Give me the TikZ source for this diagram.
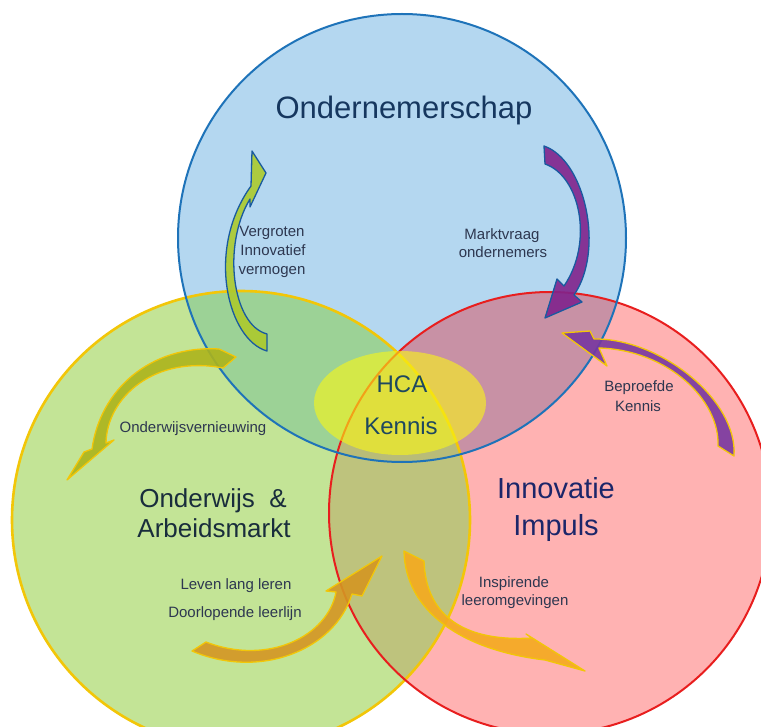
\documentclass[tikz,border=0pt]{standalone}
\usepackage{fontspec}
\setmainfont{Liberation Sans}
\definecolor{cblue}{RGB}{180,215,240}
\definecolor{cgreen}{RGB}{195,228,150}
\definecolor{cred}{RGB}{255,178,178}
\definecolor{cbg}{RGB}{156,210,150}
\definecolor{cbr}{RGB}{200,145,165}
\definecolor{cgr}{RGB}{190,195,125}
\definecolor{cbgr}{RGB}{185,188,120}
\definecolor{lblue}{RGB}{30,115,185}
\definecolor{lred}{RGB}{232,30,30}
\definecolor{lyel}{RGB}{242,198,8}
\definecolor{ellcol}{RGB}{250,247,20}
\definecolor{tnavy}{RGB}{22,55,95}
\definecolor{tinno}{RGB}{28,38,105}
\definecolor{tdark}{RGB}{25,45,60}
\definecolor{thca}{RGB}{30,72,95}
\definecolor{tsmall}{RGB}{45,55,80}
\definecolor{agreen}{RGB}{172,202,45}
\definecolor{apurple}{RGB}{128,35,140}
\definecolor{apurple2}{RGB}{120,55,160}
\definecolor{aolive}{RGB}{172,180,28}
\definecolor{aorange}{RGB}{212,150,35}
\definecolor{aorange2}{RGB}{245,170,30}
\definecolor{adblue}{RGB}{25,90,160}
\newcommand{\cBlueC}{(402,238) circle[radius=224pt]}
\newcommand{\cGreenC}{(241,520) circle[radius=229pt]}
\newcommand{\cRedC}{(550,513) circle[radius=221pt]}
\begin{document}
\begin{tikzpicture}[x=1pt,y=-1pt,
  titletext/.style={inner sep=0pt,anchor=base,font=\fontsize{30}{36}\selectfont},
  smalltext/.style={inner sep=0pt,anchor=base,text=tsmall,font=\fontsize{15}{18}\selectfont},
  arrowshape/.style={line width=1.3pt,line join=round,fill opacity=0.9}]
\useasboundingbox (0,0) rectangle (761,727);
\fill[white] (0,0) rectangle (761,727);
% circle fills
\fill[cblue] \cBlueC;
\fill[cgreen] \cGreenC;
\fill[cred] \cRedC;
\begin{scope}\clip \cBlueC; \fill[cbg] \cGreenC; \end{scope}
\begin{scope}\clip \cBlueC; \fill[cbr] \cRedC; \end{scope}
\begin{scope}\clip \cGreenC; \fill[cgr] \cRedC; \end{scope}
\begin{scope}\clip \cBlueC; \clip \cGreenC; \fill[cbgr] \cRedC; \end{scope}
% outlines
\draw[lyel,line width=2.6pt] \cGreenC;
\draw[lred,line width=2pt] \cRedC;
\draw[lblue,line width=2pt] \cBlueC;
% HCA ellipse
\fill[ellcol,fill opacity=0.6] (400,403) ellipse[x radius=86pt,y radius=52pt];
% arrows
\draw[arrowshape,draw=adblue,fill=agreen]
  (267,351) .. controls (228,340) and (205,250) .. (251,186)
  -- (252,151) -- (266,173) -- (250,207) -- (250,199)
  .. controls (222,245) and (232,325) .. (267,334) -- cycle;
\draw[arrowshape,draw=adblue,fill=apurple]
  (544,146) .. controls (585,160) and (605,250) .. (574,295)
  -- (582,302) -- (545,318) -- (557,279) -- (564,286)
  .. controls (594,242) and (580,176) .. (545,164) -- cycle;
\draw[arrowshape,draw=lyel,fill=apurple2]
  (562,333) -- (590,331) -- (594,339)
  .. controls (660,338) and (738,400) .. (734,456)
  -- (718,446) .. controls (720,400) and (668,350) .. (599,348)
  -- (607,366) -- cycle;
\draw[arrowshape,draw=lyel,fill=aolive]
  (219,349) -- (236,357) -- (223,368)
  .. controls (155,355) and (107,397) .. (106,443)
  -- (114,440) -- (67,480) -- (84,452) -- (92,449)
  .. controls (100,390) and (150,345) .. (219,349) -- cycle;
\draw[arrowshape,draw=lyel,fill=aorange]
  (192,651) -- (206,642) .. controls (268,666) and (328,636) .. (336,592)
  -- (326,591) -- (382,556) -- (362,596) -- (352,594)
  .. controls (335,650) and (260,680) .. (192,651) -- cycle;
\draw[arrowshape,draw=lyel,fill=aorange2]
  (404,551) -- (424,561) .. controls (426,618) and (467,642) .. (532,638)
  -- (526,634) -- (585,671) -- (545,660)
  .. controls (460,650) and (405,610) .. (404,551) -- cycle;
% titles
\node[titletext,text=tnavy,font=\fontsize{31}{37}\selectfont] (t1) at (404,119) {Ondernemerschap};
\node[titletext,text=tinno,font=\fontsize{29}{34}\selectfont] (t2a) at (556,498) {Innovatie};
\node[titletext,text=tinno,font=\fontsize{29}{34}\selectfont] (t2b) at (556,535) {Impuls};
\node[titletext,text=tdark,font=\fontsize{26}{31}\selectfont] (t3a) at (213,507) {Onderwijs~~\&};
\node[titletext,text=tdark,font=\fontsize{26}{31}\selectfont] (t3b) at (214,537) {Arbeidsmarkt};
\node[titletext,text=thca,font=\fontsize{24}{29}\selectfont] (h1) at (402,393) {HCA};
\node[titletext,text=thca,font=\fontsize{24}{29}\selectfont] (h2) at (401,435) {Kennis};
% small labels
\node[smalltext] (v1) at (272,237) {Vergroten};
\node[smalltext] (v2) at (273,256) {Innovatief};
\node[smalltext] (v3) at (272,275) {vermogen};
\node[smalltext] (m1) at (502,240) {Marktvraag};
\node[smalltext] (m2) at (503,258) {ondernemers};
\node[smalltext] (b1) at (639,392) {Beproefde};
\node[smalltext] (b2) at (638,412) {Kennis};
\node[smalltext] (o1) at (193,433) {Onderwijsvernieuwing};
\node[smalltext] (l1) at (236,589) {Leven lang leren};
\node[smalltext] (l2) at (235,617) {Doorlopende leerlijn};
\node[smalltext] (i1) at (514,587) {Inspirende};
\node[smalltext] (i2) at (515,605) {leeromgevingen};
\end{tikzpicture}
\end{document}
